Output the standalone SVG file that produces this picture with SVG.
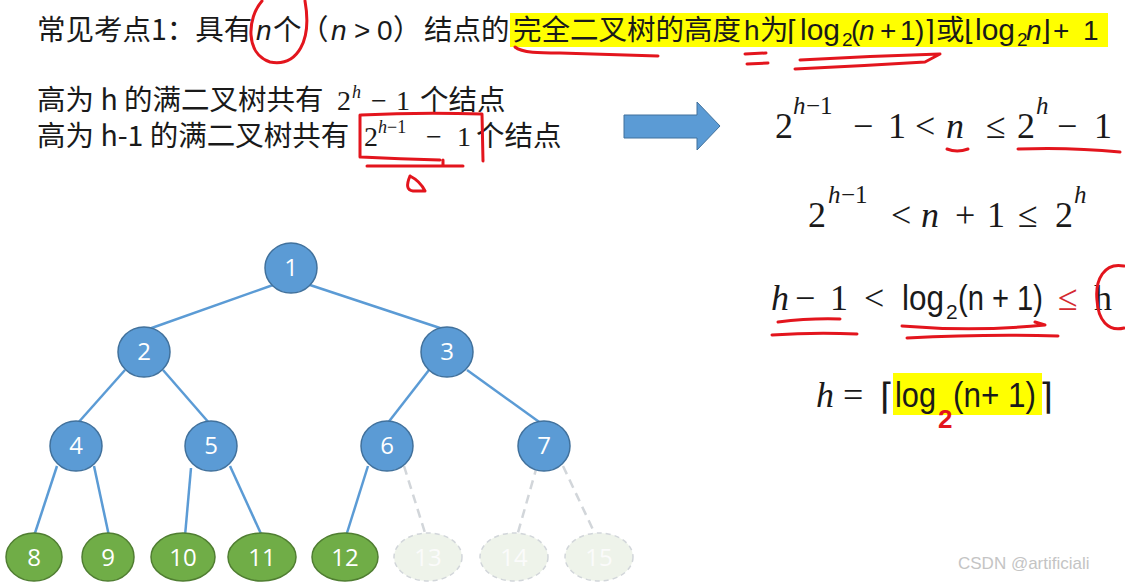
<svg xmlns="http://www.w3.org/2000/svg" width="1125" height="582" viewBox="0 0 1125 582">
<defs>
<style>
.cjk{font-family:"Noto Sans CJK SC","Liberation Sans",sans-serif;fill:#1a1a1a}
.sans{font-family:"Liberation Sans","Noto Sans",sans-serif;fill:#1a1a1a}
.it{font-style:italic}
.ser{font-family:"Liberation Serif","DejaVu Serif",serif;fill:#1a1a1a}
.sym{font-family:"DejaVu Sans",sans-serif;fill:#1a1a1a}
.m{font-size:36px}
.sup{font-size:25px}
.red{fill:none;stroke:#e3151d;stroke-width:3;stroke-linecap:round;stroke-linejoin:round}
.edge{stroke:#5b9bd5;stroke-width:2.5;fill:none}
.dash{stroke:#d2d6da;stroke-width:2.5;stroke-dasharray:9 6;fill:none}
.bn{fill:#5b9bd5;stroke:#41719c;stroke-width:1.5}
.gn{fill:#70ad47;stroke:#507e32;stroke-width:1.5}
.fn{fill:#eef3ea;stroke:#d2d6da;stroke-width:1.5;stroke-dasharray:5 4}
.lbl{font-family:"Open Sans","Liberation Sans",sans-serif;font-size:24px;fill:#ffffff;text-anchor:middle}
.flbl{font-family:"Open Sans","Liberation Sans",sans-serif;font-size:24px;fill:#fbfbfb;text-anchor:middle}
</style>
</defs>
<rect width="1125" height="582" fill="#ffffff"/>

<!-- top line -->
<g id="title">
<rect x="510" y="13" width="598" height="34" fill="#ffff00"/>
<text class="cjk" x="37" y="40" font-size="28.5">常见考点1：具有</text>
<text class="sans it" x="256" y="40" font-size="28">n</text>
<text class="cjk" x="273" y="40" font-size="28.5">个</text>
<text class="cjk" x="300" y="40" font-size="28.5">（</text>
<text class="sans it" x="331" y="40" font-size="28">n</text>
<text class="sans" x="354" y="40" font-size="28">&gt;</text>
<text class="sans" x="377" y="40" font-size="28">0</text>
<text class="cjk" x="393" y="40" font-size="28.5">）</text>
<text class="cjk" x="424" y="40" font-size="28.5">结点的</text>
<text class="cjk" x="513" y="40" font-size="28.5">完全二叉树的高度</text>
<text class="sans" x="744" y="40" font-size="28">h</text>
<text class="cjk" x="760" y="40" font-size="28.5">为</text>
<text class="sym" x="787" y="40" font-size="28">⌈</text>
<text class="sans" x="800" y="40" font-size="30" textLength="40" lengthAdjust="spacingAndGlyphs">log</text>
<text class="sans" x="842" y="46" font-size="19">2</text>
<text class="sans" x="851" y="40" font-size="28">(</text>
<text class="sans it" x="859" y="40" font-size="28">n</text>
<text class="sans" x="880" y="40" font-size="28">+</text>
<text class="sans" x="900" y="40" font-size="28">1</text>
<text class="sans" x="915" y="40" font-size="28">)</text>
<text class="sym" x="924" y="40" font-size="28">⌉</text>
<text class="cjk" x="936" y="40" font-size="28.5">或</text>
<text class="sym" x="964" y="40" font-size="28">⌊</text>
<text class="sans" x="975" y="40" font-size="30" textLength="40" lengthAdjust="spacingAndGlyphs">log</text>
<text class="sans" x="1017" y="46" font-size="19">2</text>
<text class="sans it" x="1026" y="40" font-size="28">n</text>
<text class="sym" x="1040" y="40" font-size="28">⌋</text>
<text class="sans" x="1053" y="40" font-size="28">+</text>
<text class="sans" x="1083" y="40" font-size="28">1</text>
</g>

<!-- lines 2 and 3 -->
<g id="fullTreeText">
<text class="cjk" x="37" y="110" font-size="28.5">高为 h 的满二叉树共有</text>
<text class="ser" x="337" y="110" font-size="28">2</text>
<text class="ser it" x="352" y="98" font-size="18">h</text>
<text class="ser" x="371" y="110" font-size="28">−</text>
<text class="ser" x="396" y="110" font-size="28">1</text>
<text class="cjk" x="420" y="110" font-size="28.5">个结点</text>
<text class="cjk" x="37" y="146" font-size="28.5">高为 h-1 的满二叉树共有</text>
<text class="ser" x="364" y="146" font-size="28">2</text>
<text class="ser" x="378" y="133" font-size="18"><tspan font-style="italic">h</tspan>−1</text>
<text class="ser" x="426" y="146" font-size="28">−</text>
<text class="ser" x="457" y="146" font-size="28">1</text>
<text class="cjk" x="476" y="146" font-size="28.5">个结点</text>
</g>

<!-- block arrow -->
<g id="arrow">
<polygon points="624,115 697,115 697,102 720,126 697,150 697,138 624,138" fill="#5b9bd5" stroke="#41719c" stroke-width="1"/>
</g>

<!-- formulas -->
<g id="formula1">
<text class="ser m" x="775" y="138">2</text>
<text class="ser sup it" x="793" y="114">h</text><text class="ser sup" x="806" y="114">−1</text>
<text class="ser m" x="853" y="138">−</text>
<text class="ser m" x="888" y="138">1</text>
<text class="ser m" x="915" y="138">&lt;</text>
<text class="ser m it" x="946" y="138">n</text>
<text class="ser m" x="986" y="138">≤</text>
<text class="ser m" x="1017" y="138">2</text>
<text class="ser sup it" x="1036" y="114">h</text>
<text class="ser m" x="1057" y="138">−</text>
<text class="ser m" x="1094" y="138">1</text>
</g>
<g id="formula2">
<text class="ser m" x="808" y="227">2</text>
<text class="ser sup it" x="828" y="203">h</text><text class="ser sup" x="841" y="203">−1</text>
<text class="ser m" x="891" y="227">&lt;</text>
<text class="ser m it" x="921" y="227">n</text>
<text class="ser m" x="955" y="227">+</text>
<text class="ser m" x="987" y="227">1</text>
<text class="ser m" x="1018" y="227">≤</text>
<text class="ser m" x="1055" y="227">2</text>
<text class="ser sup it" x="1074" y="203">h</text>
</g>
<g id="formula3">
<text class="ser m it" x="771" y="310">h</text>
<text class="ser m" x="795" y="310">−</text>
<text class="ser m" x="830" y="310">1</text>
<text class="ser m" x="864" y="310">&lt;</text>
<text class="sans" x="902" y="310" font-size="35" textLength="42" lengthAdjust="spacingAndGlyphs">log</text>
<text class="sans" x="946" y="319" font-size="21">2</text>
<text class="sans" x="958" y="310" font-size="35" textLength="85" lengthAdjust="spacingAndGlyphs">(n + 1)</text>
<text class="ser m" x="1058" y="310" style="fill:#d42a30">≤</text>
<text class="ser m" x="1094" y="310">h</text>
</g>
<g id="formula4">
<rect x="893" y="373" width="149" height="42" fill="#ffff00"/>
<text class="ser m it" x="816" y="407">h</text>
<text class="ser m" x="843" y="407">=</text>
<text class="sym" x="880" y="409" font-size="36">⌈</text>
<text class="sans" x="895" y="407" font-size="35" textLength="41" lengthAdjust="spacingAndGlyphs">log</text>
<text class="sans" x="953" y="407" font-size="35" textLength="83" lengthAdjust="spacingAndGlyphs">(n+ 1)</text>
<text class="sym" x="1039" y="409" font-size="36">⌉</text>
<text x="938" y="428" font-family="Liberation Sans, sans-serif" font-weight="bold" font-size="26" fill="#e3151d">2</text>
</g>

<!-- red handwriting -->
<g id="annotations">
<path class="red" d="M262 1 C247 18 245 54 270 62 C298 67 312 40 305 1"/>
<path class="red" d="M515 47 C522 53 540 53 560 53 L658 56"/>
<path class="red" d="M745 54 L766 53 M747 64 L768 63"/>
<path class="red" d="M800 60 Q870 56 940 54 L925 62 Q860 66 795 69"/>
<path class="red" d="M360 115 L360 157 M361 115 Q420 112 482 114 L483 161 M361 157 Q400 159 440 160 M367 166 L463 166 M443 160 L443 166 M410 176 Q404 190 413 191 L425 191 Q420 181 410 176"/>
<path class="red" d="M947 149 Q957 153 968 149"/>
<path class="red" d="M1018 149 Q1070 147 1120 152"/>
<path class="red" d="M778 322 Q810 318 840 319 M772 335 Q815 332 857 334"/>
<path class="red" d="M902 326 Q975 332 1045 325 L1035 322 M907 338 Q985 334 1058 336"/>
<path class="red" d="M1124 266 C1104 262 1095 280 1097 300 C1098 320 1108 332 1124 328"/>
</g>

<!-- connectors -->
<g id="connectors">
<line class="edge" x1="273" y1="285" x2="146" y2="330"/>
<line class="edge" x1="310" y1="285" x2="446" y2="330"/>
<line class="edge" x1="125" y1="370" x2="77" y2="424"/>
<line class="edge" x1="163" y1="370" x2="210" y2="424"/>
<line class="edge" x1="429" y1="370" x2="387" y2="424"/>
<line class="edge" x1="467" y1="370" x2="542" y2="424"/>
<line class="edge" x1="57" y1="466" x2="34" y2="536"/>
<line class="edge" x1="94" y1="466" x2="109" y2="536"/>
<line class="edge" x1="191" y1="468" x2="185" y2="536"/>
<line class="edge" x1="230" y1="466" x2="262" y2="536"/>
<line class="edge" x1="368" y1="466" x2="346" y2="536"/>
<line class="dash" x1="404" y1="466" x2="426" y2="536"/>
<line class="dash" x1="537" y1="466" x2="517" y2="536"/>
<line class="dash" x1="563" y1="466" x2="596" y2="536"/>
</g>

<!-- nodes -->
<g id="n1"><ellipse class="bn" cx="291" cy="268" rx="26" ry="25"/><text class="lbl" x="291" y="276">1</text></g>
<g id="n2"><ellipse class="bn" cx="144" cy="352" rx="26" ry="25"/><text class="lbl" x="144" y="360">2</text></g>
<g id="n3"><ellipse class="bn" cx="447" cy="352" rx="26" ry="25"/><text class="lbl" x="447" y="360">3</text></g>
<g id="n4"><ellipse class="bn" cx="76" cy="446" rx="26" ry="25"/><text class="lbl" x="76" y="454">4</text></g>
<g id="n5"><ellipse class="bn" cx="211" cy="446" rx="26" ry="25"/><text class="lbl" x="211" y="454">5</text></g>
<g id="n6"><ellipse class="bn" cx="387" cy="446" rx="26" ry="25"/><text class="lbl" x="387" y="454">6</text></g>
<g id="n7"><ellipse class="bn" cx="544" cy="446" rx="26" ry="25"/><text class="lbl" x="544" y="454">7</text></g>
<g id="n8"><ellipse class="gn" cx="34" cy="557" rx="28" ry="24"/><text class="lbl" x="34" y="566">8</text></g>
<g id="n9"><ellipse class="gn" cx="108" cy="557" rx="26" ry="24"/><text class="lbl" x="108" y="566">9</text></g>
<g id="n10"><ellipse class="gn" cx="183" cy="557" rx="32" ry="24"/><text class="lbl" x="183" y="566">10</text></g>
<g id="n11"><ellipse class="gn" cx="262" cy="557" rx="34" ry="24"/><text class="lbl" x="262" y="566">11</text></g>
<g id="n12"><ellipse class="gn" cx="345" cy="557" rx="33" ry="24"/><text class="lbl" x="345" y="566">12</text></g>
<g id="n13"><ellipse class="fn" cx="428" cy="557" rx="34" ry="24"/><text class="flbl" x="428" y="566">13</text></g>
<g id="n14"><ellipse class="fn" cx="514" cy="557" rx="34" ry="24"/><text class="flbl" x="514" y="566">14</text></g>
<g id="n15"><ellipse class="fn" cx="599" cy="557" rx="34" ry="24"/><text class="flbl" x="599" y="566">15</text></g>

<g id="watermark">
<text x="958" y="569" font-family="Liberation Sans, sans-serif" font-size="17" fill="#c4c4c4">CSDN @artificiali</text>
</g>
</svg>
